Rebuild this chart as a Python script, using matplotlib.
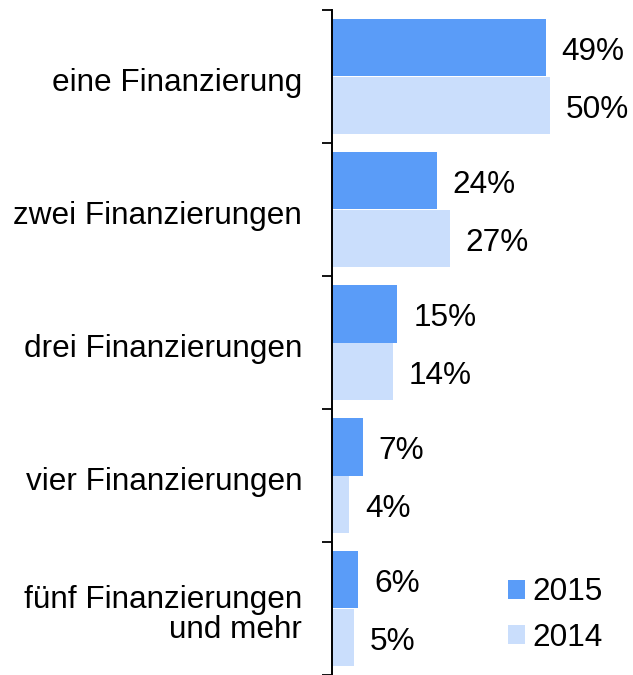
import matplotlib.pyplot as plt
import numpy as np

plt.rcParams['font.family'] = ['Liberation Sans', 'DejaVu Sans']

categories = ['eine Finanzierung', 'zwei Finanzierungen', 'drei Finanzierungen',
              'vier Finanzierungen', 'fünf Finanzierungen\nund mehr']
values_2015 = [49, 24, 15, 7, 6]
values_2014 = [50, 27, 14, 4, 5]
series_labels = ['2015', '2014']
colors = ['#5A9CF8', '#CADEFC']
fs = 22.7

fig = plt.figure(figsize=(6.33, 6.75), dpi=100)
ax = fig.add_axes([332 / 633, 0.0, 1 - 332 / 633, 1 - 10 / 675])

y = np.arange(len(categories))
h = 0.436
b1 = ax.barh(y - h / 2, values_2015, height=h, color=colors[0], label=series_labels[0])
b2 = ax.barh(y + h / 2, values_2014, height=h, color=colors[1], label=series_labels[1])

for bars, vals in [(b1, values_2015), (b2, values_2014)]:
    for bar, v in zip(bars, vals):
        ax.annotate(f'{v}%', (bar.get_width(), bar.get_y() + bar.get_height() / 2),
                    xytext=(11.5, -1), textcoords='offset points',
                    ha='left', va='center_baseline', fontsize=fs)

ax.set_xlim(0, 69)
ax.set_ylim(len(categories) - 0.5, -0.5)

# ticks at category boundaries, labels at category centres
ax.set_yticks(np.arange(len(categories) + 1) - 0.5)
ax.set_yticklabels([])
ax.tick_params(axis='y', direction='out', length=7.5, width=1.3)
for i, c in enumerate(categories):
    ax.text(-30 / 4.37, i + 0.02, c, ha='right', va='center_baseline', fontsize=fs,
            multialignment='right', linespacing=1.0)

ax.set_xticks([])
for s in ['top', 'right', 'bottom']:
    ax.spines[s].set_visible(False)
ax.spines['left'].set_linewidth(1.4)

ax.legend(loc='lower left', bbox_to_anchor=(0.51, 0.0), frameon=False,
          fontsize=fs, handlelength=0.55, handleheight=0.55, handletextpad=0.25,
          labelspacing=0.5, borderaxespad=0.3)

fig.savefig('out.png', dpi=100)
